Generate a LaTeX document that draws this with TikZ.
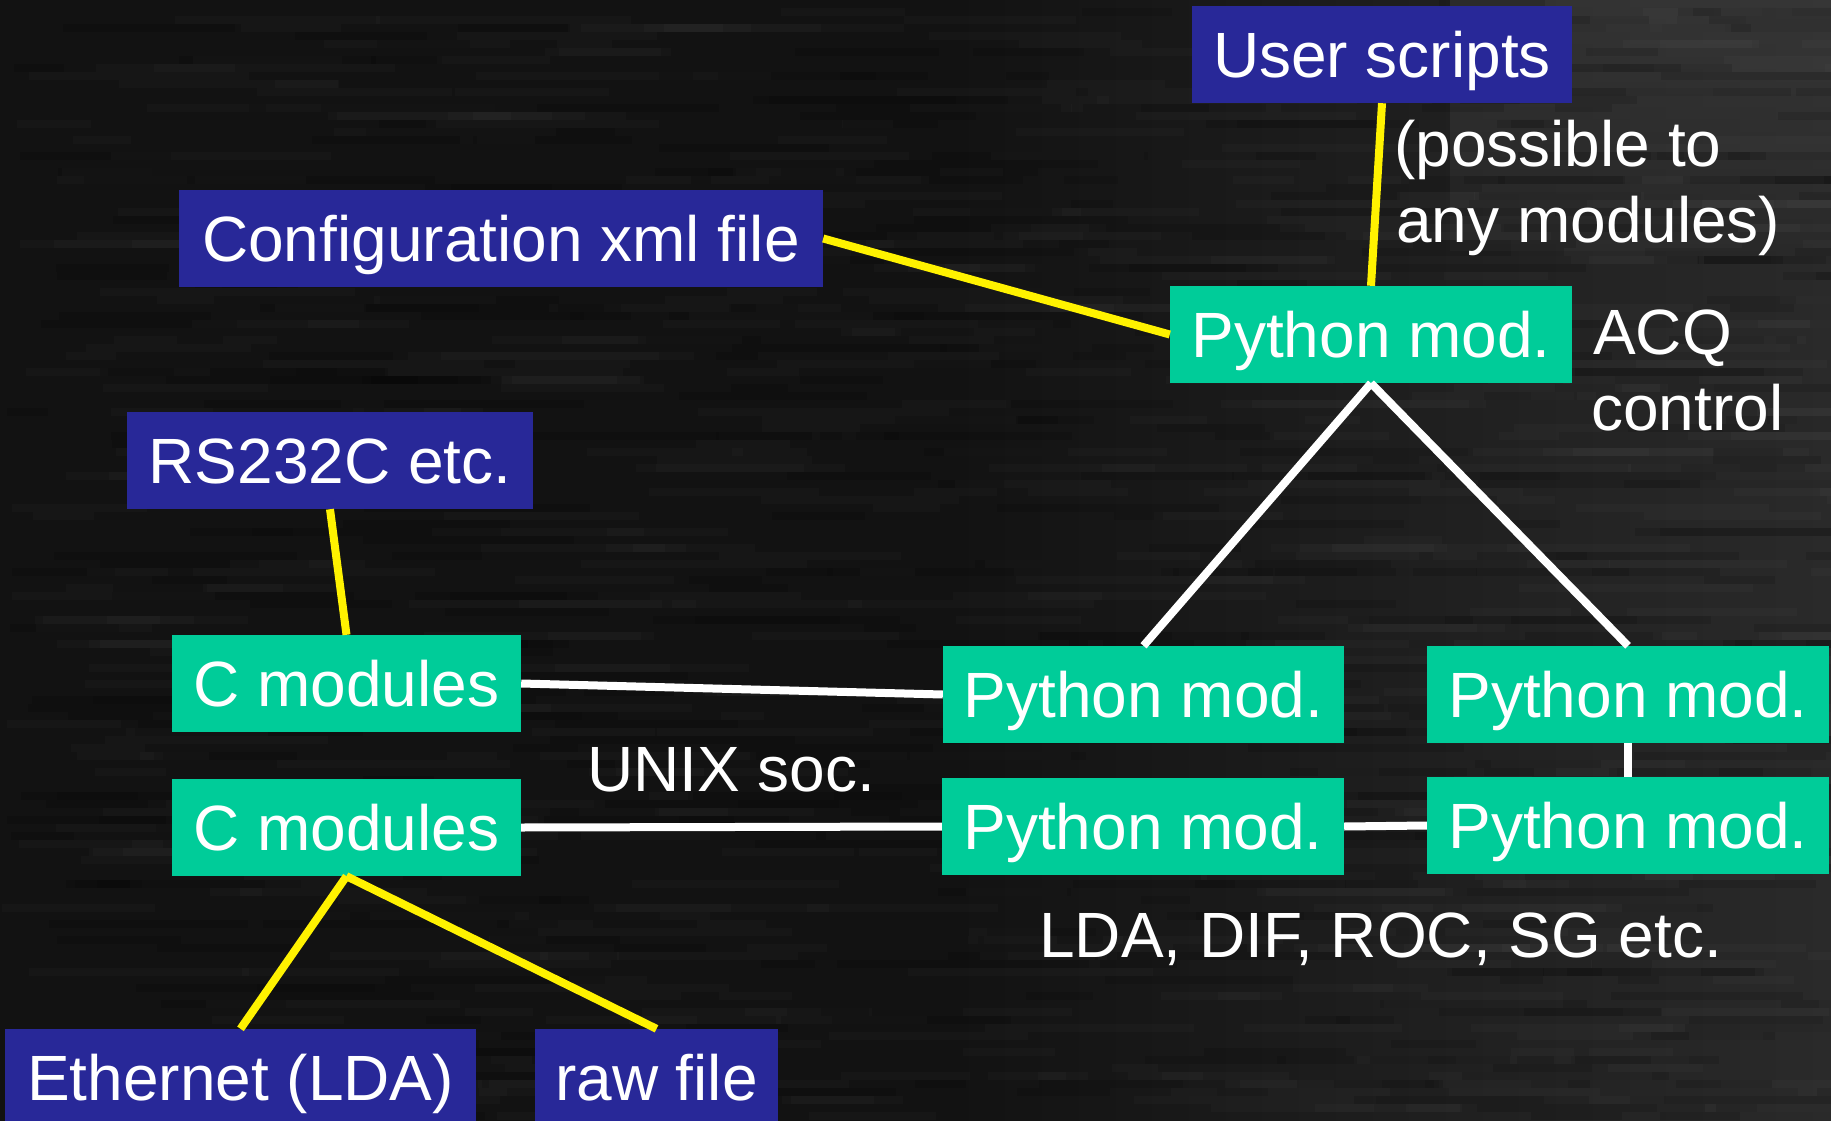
\documentclass[tikz,border=0pt]{standalone}
\usepackage{fontspec}
\setmainfont{Liberation Sans}
\definecolor{boxblue}{RGB}{40,40,152}
\definecolor{boxgreen}{RGB}{0,204,153}
\definecolor{bgdark}{RGB}{18,18,18}
\definecolor{bgright}{RGB}{42,42,42}
\definecolor{bgcorner}{RGB}{62,62,62}
\newcommand\bigfont{\fontsize{64}{75}\selectfont}
\begin{document}
\begin{tikzpicture}[x=1pt,y=-1pt,
  modbox/.style={rectangle, inner sep=0pt, minimum height=97pt, text height=46pt, text depth=0pt, text=white, font=\bigfont},
  bluebox/.style={modbox, fill=boxblue},
  greenbox/.style={modbox, fill=boxgreen},
  lbl/.style={inner sep=0pt, anchor=base west, text=white, font=\bigfont},
  yline/.style={draw=yellow, line width=8pt},
  wline/.style={draw=white, line width=8pt}]
\useasboundingbox (0,0) rectangle (1831,1121);
\clip (0,0) rectangle (1831,1121);
% background
\fill[bgdark] (0,0) rectangle (1831,1121);
\shade[left color=bgdark, right color=bgright] (950,0) rectangle (1831,1121);
\shade[top color=bgcorner, bottom color=bgright, opacity=0.6] (1450,0) rectangle (1831,250);
\pgfmathsetseed{12}
\foreach \i in {1,...,600}{
  \pgfmathsetmacro\xx{rnd*1831}
  \pgfmathsetmacro\yy{round(rnd*140)*8}
  \pgfmathsetmacro\ww{40+rnd*220}
  \fill[white,opacity=0.02] (\xx,\yy) rectangle ++(\ww,8);
}
\foreach \i in {1,...,500}{
  \pgfmathsetmacro\xx{rnd*1831}
  \pgfmathsetmacro\yy{round(rnd*140)*8}
  \pgfmathsetmacro\ww{40+rnd*220}
  \fill[black,opacity=0.12] (\xx,\yy) rectangle ++(\ww,8);
}
% nodes
\node[bluebox, minimum width=380pt] (us) at (1382,54.5) {User scripts};
\node[bluebox, minimum width=644pt] (cfg) at (501,238.5) {Configuration xml file};
\node[greenbox, minimum width=402pt] (pt) at (1371,334.5) {Python mod.};
\node[bluebox, minimum width=406pt] (rs) at (330,460.5) {RS232C etc.};
\node[greenbox, minimum width=349pt] (c1) at (346.5,683.5) {C modules};
\node[greenbox, minimum width=349pt] (c2) at (346.5,827.5) {C modules};
\node[greenbox, minimum width=401pt] (pml) at (1143.5,694.5) {Python mod.};
\node[greenbox, minimum width=402pt] (pmr) at (1628,694.5) {Python mod.};
\node[greenbox, minimum width=402pt] (pll) at (1143,826.5) {Python mod.};
\node[greenbox, minimum width=402pt] (plr) at (1628,825.5) {Python mod.};
\node[bluebox, minimum width=471pt] (eth) at (240.5,1077.5) {Ethernet (LDA)};
\node[bluebox, minimum width=243pt] (raw) at (656.5,1077.5) {raw file};
% labels
\node[lbl] (poss1) at (1394,167) {(possible to};
\node[lbl] (poss2) at (1396,242) {any modules)};
\node[lbl] (acq1) at (1593,354) {ACQ};
\node[lbl] (acq2) at (1591,430) {control};
\node[lbl] (unix) at (587,791) {UNIX soc.};
\node[lbl] (lda) at (1039,957) {LDA, DIF, ROC, SG etc.};
% connectors
\draw[yline] (us.south) -- (pt.north);
\draw[yline] (cfg.east) -- (pt.west);
\draw[yline] (rs.south) -- (c1.north);
\draw[yline] (c2.south) -- (eth.north);
\draw[yline] (c2.south) -- (raw.north);
\draw[wline] (pt.south) -- (pml.north);
\draw[wline] (pt.south) -- (pmr.north);
\draw[wline] (c1.east) -- (pml.west);
\draw[wline] (c2.east) -- (pll.west);
\draw[wline] (pll.east) -- (plr.west);
\draw[wline] (pmr.south) -- (plr.north);
\end{tikzpicture}
\end{document}
